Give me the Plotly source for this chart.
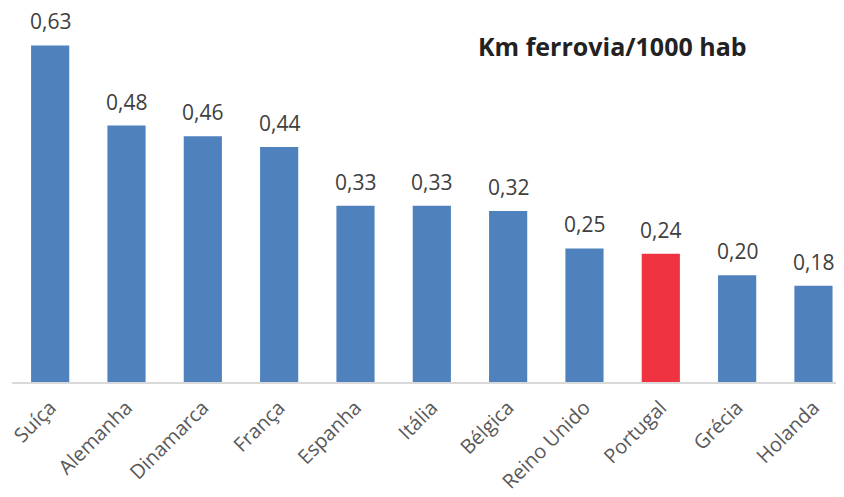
import plotly.graph_objects as go

countries = ["Suíça", "Alemanha", "Dinamarca", "França", "Espanha", "Itália",
             "Bélgica", "Reino Unido", "Portugal", "Grécia", "Holanda"]
values = [0.63, 0.48, 0.46, 0.44, 0.33, 0.33, 0.32, 0.25, 0.24, 0.20, 0.18]
highlight = "Portugal"
title_text = "Km ferrovia/1000 hab"

BLUE = "#4F81BD"
RED = "#EF3340"
colors = [RED if c == highlight else BLUE for c in countries]

# page body has an 8px default margin, so the figure is offset by 8px
W, H = 836, 489
ml, mr, mt, mb = 4, 0, 0, 115
pw, ph = W - ml - mr, H - mt - mb

fig = go.Figure()
fig.add_trace(go.Bar(
    x=countries, y=values, marker=dict(color=colors, line=dict(width=0)),
    hoverinfo="skip",
))

for c, v in zip(countries, values):
    fig.add_annotation(
        x=c, y=v, text=f"{v:.2f}".replace(".", ","), showarrow=False,
        yanchor="middle", yshift=24,
        font=dict(family="Open Sans", size=21, color="#404040"),
    )

fig.add_annotation(
    x=(604 - ml) / pw, y=1 - (38 - mt) / ph, xref="paper", yref="paper",
    xanchor="center", yanchor="middle", showarrow=False,
    text=f"<b>{title_text}</b>",
    font=dict(family="Open Sans", size=25, color="#222222"),
)

fig.update_layout(
    width=W, height=H,
    margin=dict(l=ml, r=mr, t=mt, b=mb, pad=0, autoexpand=False),
    plot_bgcolor="white", paper_bgcolor="white",
    bargap=0.5, showlegend=False,
    xaxis=dict(
        range=[-0.5, 10.4], tickangle=-45, showline=True, linecolor="#D9D9D9",
        linewidth=2, ticks="", showgrid=False, ticklabelstandoff=4,
        automargin=False,
        tickfont=dict(family="Open Sans", size=20, color="#595959"),
    ),
    yaxis=dict(range=[0, 0.7], visible=False, showgrid=False, zeroline=False,
               automargin=False),
)

fig.write_html("out.html")
